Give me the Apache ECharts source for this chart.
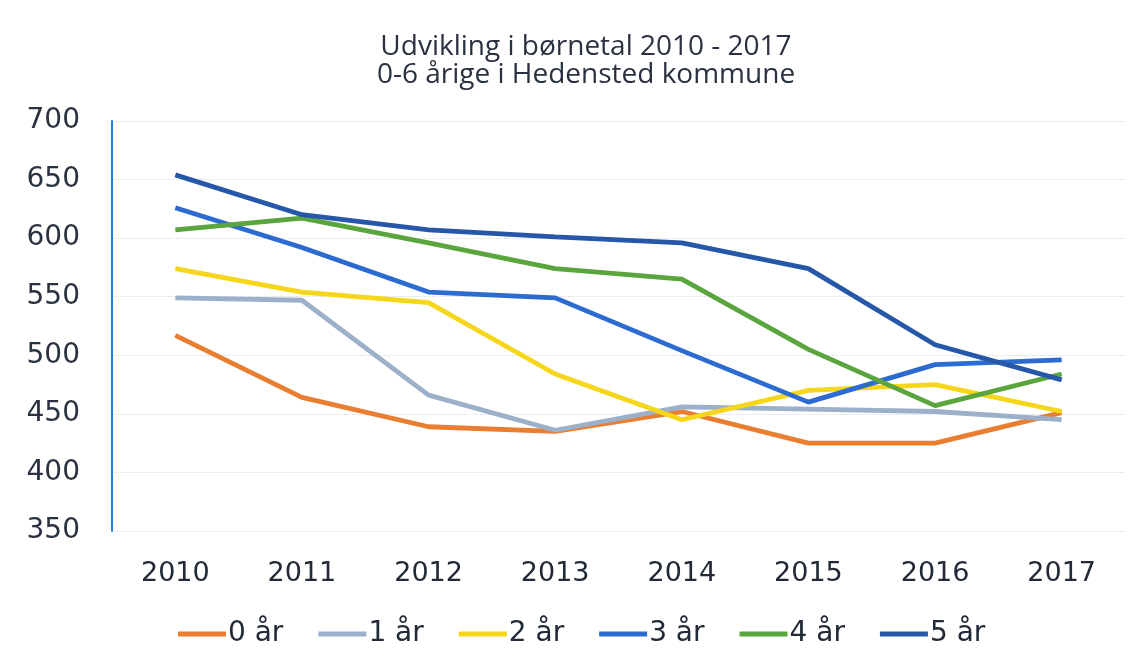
<!DOCTYPE html>
<html><head><meta charset="utf-8">
<script src="https://cdn.jsdelivr.net/npm/echarts@6/dist/echarts.min.js"></script>
<style>html,body{margin:0;padding:0;background:#fff}#c{width:1137px;height:659px}</style>
</head><body><div id="c"></div>
<script>
const years = ['2010','2011','2012','2013','2014','2015','2016','2017'];
const s0 = [517, 464, 439, 435, 452, 425, 425, 451];
const s1 = [549, 547, 466, 436, 456, 454, 452, 445];
const s2 = [574, 554, 545, 484, 445, 470, 475, 452];
const s3 = [626, 592, 554, 549, 504, 460, 492, 496];
const s4 = [607, 617, 596, 574, 565, 505, 457, 484];
const s5 = [654, 620, 607, 601, 596, 574, 509, 479];
const names = ['0 år','1 år','2 år','3 år','4 år','5 år'];
const colors = ['#E97D30','#9CB0C9','#F6D61A','#2C6BD0','#5BA53E','#2757A9'];
const all = [s0,s1,s2,s3,s4,s5];
const chart = echarts.init(document.getElementById('c'));
chart.setOption({
  backgroundColor:'#fff',
  animation:false,
  title:{text:'Udvikling i børnetal 2010 - 2017\n0-6 årige i Hedensted kommune',left:581,textAlign:'center',top:28,
    textStyle:{fontFamily:'Open Sans',fontSize:28,fontWeight:'normal',color:'#2a3140',lineHeight:28}},
  legend:{top:615,left:173,itemWidth:48,itemHeight:5,itemGap:35,icon:'rect',
    textStyle:{fontFamily:'DejaVu Sans',fontSize:28,color:'#222a38',padding:[0,0,0,-3]},
    data:names},
  grid:{left:112,right:12,top:121,bottom:128},
  xAxis:{type:'category',data:years,boundaryGap:true,
    axisLine:{show:false},axisTick:{show:false},
    axisLabel:{fontFamily:'DejaVu Sans',fontSize:27,color:'#222a38',margin:29}},
  yAxis:{type:'value',min:350,max:700,interval:50,
    axisLine:{show:true,lineStyle:{color:'#1f7fe0',width:2}},
    axisTick:{show:false},
    axisLabel:{fontFamily:'DejaVu Sans',fontSize:28,color:'#2a3140',margin:32},
    splitLine:{lineStyle:{color:'#d8dbe2',type:'dotted',width:1}}},
  series: all.map((d,i)=>({name:names[i],type:'line',data:d,symbol:'none',
    lineStyle:{width:4.8,color:colors[i]},itemStyle:{color:colors[i]},z:2+i}))
});
</script></body></html>
